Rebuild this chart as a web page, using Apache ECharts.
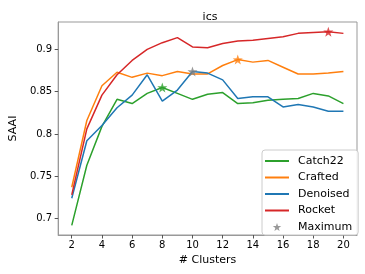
<!DOCTYPE html>
<html>
<head>
<meta charset="utf-8">
<script src="https://cdn.jsdelivr.net/npm/echarts@6/dist/echarts.min.js"></script>
<style>html,body{margin:0;padding:0;background:#fff}#c{width:365px;height:274px}</style>
</head>
<body>
<div id="c"></div>
<script>
const clusters = [2,3,4,5,6,7,8,9,10,11,12,13,14,15,16,17,18,19,20];
const catch22  = [0.692,0.763,0.809,0.841,0.836,0.848,0.855,0.848,0.841,0.847,0.849,0.836,0.837,0.840,0.841,0.842,0.848,0.845,0.836];
const crafted  = [0.737,0.816,0.857,0.873,0.867,0.872,0.869,0.874,0.871,0.871,0.881,0.888,0.885,0.887,0.879,0.871,0.871,0.872,0.874];
const denoised = [0.724,0.792,0.810,0.831,0.846,0.870,0.839,0.852,0.874,0.872,0.864,0.842,0.844,0.844,0.832,0.835,0.832,0.827,0.827];
const rocket   = [0.728,0.806,0.846,0.870,0.887,0.900,0.908,0.914,0.903,0.902,0.907,0.910,0.911,0.913,0.915,0.919,0.920,0.921,0.919];
const seriesNames = ['Catch22','Crafted','Denoised','Rocket'];
const seriesColors = ['#2ca02c','#ff7f0e','#1f77b4','#d62728'];
const maxStarColors = ['#2ca02c','#ff7f0e','#7f7f7f','#d62728'];
const xTicks = [2,4,6,8,10,12,14,16,18,20];
const yTicks = [0.7,0.75,0.8,0.85,0.9];

const allSeries = [catch22, crafted, denoised, rocket];
const star = 'path://M0,-10 L2.35,-3.24 L9.51,-3.09 L3.8,1.24 L5.88,8.09 L0,4 L-5.88,8.09 L-3.8,1.24 L-9.51,-3.09 L-2.35,-3.24 Z';
const lineIcon = 'path://M0,0 H24 V2 H0 Z';

const allVals = allSeries.flat();
const vmin = Math.min(...allVals), vmax = Math.max(...allVals);
const pad = (vmax - vmin) * 0.05;
const xPad = (clusters[clusters.length-1] - clusters[0]) * 0.05;

const maxData = allSeries.map((arr, i) => {
  let bi = 0;
  arr.forEach((v, j) => { if (v > arr[bi]) bi = j; });
  return { value: [clusters[bi], arr[bi]], itemStyle: { color: maxStarColors[i] } };
});

const series = allSeries.map((arr, i) => ({
  name: seriesNames[i],
  type: 'line',
  data: arr.map((v, j) => [clusters[j], v]),
  symbol: 'none',
  showSymbol: false,
  color: seriesColors[i],
  lineStyle: { width: 1.5, color: seriesColors[i] },
  itemStyle: { color: seriesColors[i] },
  z: 2 + i
}));
series.push({
  name: 'Maximum',
  type: 'scatter',
  data: maxData,
  symbol: star,
  symbolSize: 10,
  itemStyle: { color: '#7f7f7f' },
  z: 10
});

const font = 'DejaVu Sans';
const chart = echarts.init(document.getElementById('c'), null, { renderer: 'canvas' });
chart.setOption({
  animation: false,
  backgroundColor: '#fff',
  title: {
    text: 'ics', left: 205, top: 7, textAlign: 'center',
    textStyle: { fontFamily: font, fontSize: 11, fontWeight: 'normal', color: '#000' }
  },
  grid: { left: 53, right: 8, top: 22, bottom: 39, show: true, borderColor: '#999', borderWidth: 1 },
  legend: {
    orient: 'vertical', left: 262, top: 150,
    padding: [5, 6, 2, 3],
    itemWidth: 24, itemHeight: 8, itemGap: 4.5,
    backgroundColor: 'rgba(255,255,255,0.85)', borderColor: '#ccc', borderWidth: 1, borderRadius: 3,
    textStyle: { fontFamily: font, fontSize: 11, lineHeight: 12, color: '#000', padding: [0, 0, 0, 4] },
    data: seriesNames.map(n => ({ name: n, icon: lineIcon })).concat([{ name: 'Maximum', icon: star }])
  },
  xAxis: {
    type: 'value', min: clusters[0] - xPad, max: clusters[clusters.length-1] + xPad,
    name: '# Clusters', nameLocation: 'middle', nameGap: 20,
    nameTextStyle: { fontFamily: font, fontSize: 11, color: '#000' },
    axisLine: { show: true, lineStyle: { color: '#999' } },
    axisTick: { show: true, length: 3.5, lineStyle: { color: '#555' }, customValues: xTicks },
    axisLabel: { fontFamily: font, fontSize: 10, color: '#000', margin: 5, customValues: xTicks },
    splitLine: { show: false }
  },
  yAxis: {
    type: 'value', min: vmin - pad, max: vmax + pad,
    name: 'SAAI', nameLocation: 'middle', nameGap: 34, nameRotate: 90,
    nameTextStyle: { fontFamily: font, fontSize: 11, color: '#000' },
    axisLine: { show: true, lineStyle: { color: '#999' } },
    axisTick: { show: true, length: 3.5, lineStyle: { color: '#555' }, customValues: yTicks },
    axisLabel: { fontFamily: font, fontSize: 10, color: '#000', margin: 6, customValues: yTicks },
    splitLine: { show: false }
  },
  series: series
});
</script>
</body>
</html>
